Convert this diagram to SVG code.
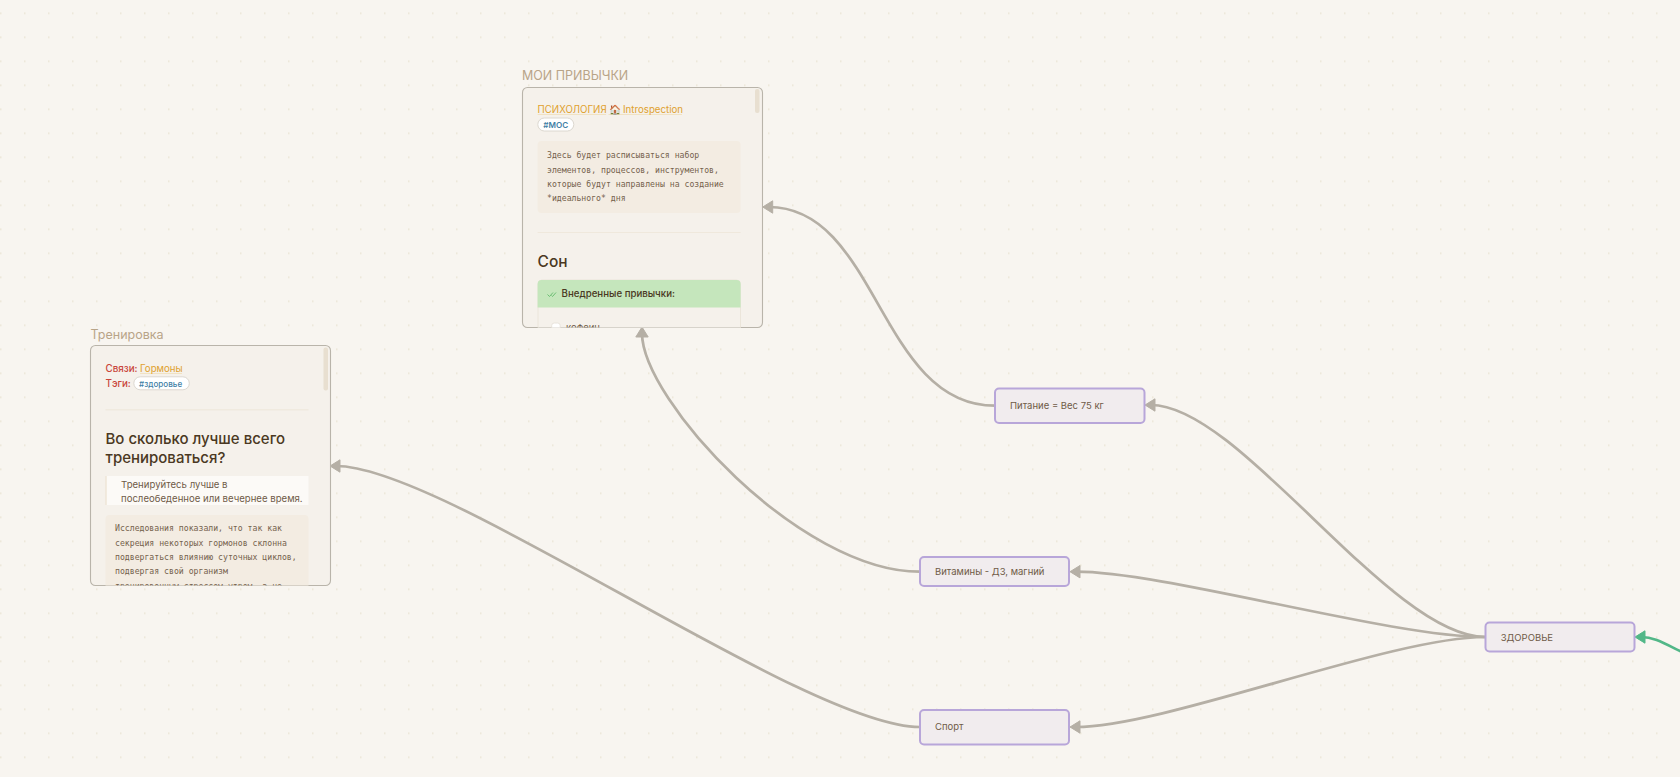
<svg xmlns="http://www.w3.org/2000/svg" width="1680" height="777" viewBox="0 0 1680 777">
<style>
text{font-family:"Inter","Noto Sans",sans-serif;white-space:pre}
.mono{font-family:"DejaVu Sans Mono","Liberation Mono",monospace;font-size:8.17px;fill:#75624d}
.card{fill:#f5f1eb;stroke:#b9b4aa;stroke-width:1.1}
.box{fill:#f1ecee;stroke:#b8a6d9;stroke-width:2}
.label{font-size:9.5px;fill:#6f5b47}
.ttl{font-size:12.5px;fill:#b8a488}
.link{font-size:9.7px;fill:#e0a12f}
.ul{fill:#f1dfb8}
.red{font-size:9.8px;fill:#c9453a;font-weight:500}
.tag{fill:#fff;stroke:#dcd8d0;stroke-width:1}
.tagt{font-size:8.1px;fill:#3f7fa6;font-weight:600}
.h{fill:#4a3822;font-weight:550}
.edge{fill:none;stroke:#b5afa5;stroke-width:2.7}
.grn{fill:none;stroke:#52b788;stroke-width:2.7}
</style>
<defs>
<pattern id="dots" width="24" height="24" patternUnits="userSpaceOnUse" patternTransform="translate(0 12.5)"><rect width="1.5" height="1.5" fill="#e9e3d3"/></pattern>
<marker id="ah" markerUnits="userSpaceOnUse" markerWidth="16" markerHeight="16" refX="5" refY="8" orient="auto"><path d="M1 1.800L11 8L1 14.200Z" fill="#b5afa5" stroke="#b5afa5" stroke-linejoin="round"/></marker>
<marker id="ag" markerUnits="userSpaceOnUse" markerWidth="16" markerHeight="16" refX="5" refY="8" orient="auto"><path d="M1 1.800L11 8L1 14.200Z" fill="#52b788" stroke="#52b788" stroke-linejoin="round"/></marker>
<clipPath id="c1"><rect x="522.500" y="87.500" width="240" height="240" rx="5"/></clipPath>
<clipPath id="c2"><rect x="90.500" y="345.500" width="240" height="240" rx="5"/></clipPath>
</defs>
<rect width="1680" height="777" fill="#f8f5f0"/>
<rect width="1680" height="777" fill="url(#dots)"/>
<g id="connectors">
<path class="edge" marker-end="url(#ah)" d="M995 405.700C879 405.700 878 207 768.700 207"/>
<path class="edge" marker-end="url(#ah)" d="M919.700 571.700C800 571.700 642 400 642 333"/>
<path class="edge" marker-end="url(#ah)" d="M919.700 727C805 727 445 466 336 466"/>
<path class="edge" marker-end="url(#ah)" d="M1485 637C1390 637 1240 405 1151 405"/>
<path class="edge" marker-end="url(#ah)" d="M1485 637C1390 637 1165 571.700 1076 571.700"/>
<path class="edge" marker-end="url(#ah)" d="M1485 637C1390 637 1165 727 1076 727"/>
<path class="grn" marker-end="url(#ag)" d="M1690 656C1665 644 1655 637 1641 637"/>
</g>
<g id="node-habits">
<text class="ttl" x="522" y="80">МОИ ПРИВЫЧКИ</text>
<rect class="card" x="522.500" y="87.500" width="240" height="240" rx="5"/>
<g clip-path="url(#c1)">
<rect x="755" y="89" width="4.500" height="24" rx="2" fill="#e8dfd0"/>
<rect class="ul" x="537.600" y="114.200" width="68.500" height="0.800"/>
<rect class="ul" x="608.500" y="114.200" width="73.500" height="0.800"/>
<text class="link" x="537.600" y="113">ПСИХОЛОГИЯ</text>
<text class="link" x="609" y="113" style="font-family:'Noto Sans CJK SC','Noto Sans',sans-serif">🏠</text>
<text class="link" x="623" y="113">Introspection</text>
<rect class="tag" x="537.800" y="118" width="36" height="13" rx="6.500"/>
<text class="tagt" x="543.300" y="127.800">#MOC</text>
<rect x="537.600" y="141" width="203" height="72" rx="4" fill="#f3ece2"/>
<text class="mono" x="547" y="158">Здесь будет расписываться набор</text>
<text class="mono" x="547" y="172.500">элементов, процессов, инструментов,</text>
<text class="mono" x="547" y="187">которые будут направлены на создание</text>
<text class="mono" x="547" y="201">*идеального* дня</text>
<rect x="537.600" y="232" width="203" height="1" fill="#efe8dc"/>
<text class="h" x="537.600" y="267" font-size="15.500">Сон</text>
<rect x="538" y="280" width="202.500" height="60" rx="4" fill="#f5f1eb" stroke="#ebe5da"/>
<path d="M537.600 307.500V284a4 4 0 0 1 4-4H736.600a4 4 0 0 1 4 4V307.500Z" fill="#c5e6bc"/>
<path d="M547.500 294.500l2 2 3.500-4M551.500 295.500l1 1 3.500-4" fill="none" stroke="#6cbf73" stroke-width="1"/>
<text class="h" x="561.600" y="297" font-size="9.700" style="font-weight:500">Внедренные привычки:</text>
<rect x="551.700" y="323" width="8.500" height="9" rx="2.500" fill="#fff" stroke="#e8e3db"/>
<text class="label" x="566" y="331">кофеин</text>
</g>
</g>
<g id="node-training">
<text class="ttl" x="90.500" y="339">Тренировка</text>
<rect class="card" x="90.500" y="345.500" width="240" height="240" rx="5"/>
<g clip-path="url(#c2)">
<rect x="323.500" y="347.500" width="4.500" height="43" rx="2" fill="#e8dfd0"/>
<rect class="ul" x="140" y="373" width="42" height="0.800"/>
<text class="red" x="105.500" y="371.500">Связи:</text>
<text class="link" x="140" y="371.500">Гормоны</text>
<text class="red" x="105.500" y="386.500">Тэги:</text>
<rect class="tag" x="133.800" y="376.800" width="55.500" height="13" rx="6.500"/>
<text class="tagt" x="139" y="386.500" style="font-weight:500">#здоровье</text>
<rect x="105.500" y="409" width="203" height="1.500" fill="#f0eadf"/>
<text class="h" x="105.500" y="444" font-size="15">Во сколько лучше всего</text>
<text class="h" x="105.500" y="463" font-size="15">тренироваться?</text>
<rect x="105.500" y="476" width="203" height="29" fill="#fcfaf7"/>
<rect x="105.500" y="476" width="1" height="29" fill="#e8dcc8"/>
<text class="label" x="121" y="487.500" style="font-size:9.600px">Тренируйтесь лучше в</text>
<text class="label" x="121" y="501.500" style="font-size:9.600px">послеобеденное или вечернее время.</text>
<rect x="105.500" y="515" width="203" height="80" rx="4" fill="#f3ece2"/>
<text class="mono" x="115" y="531">Исследования показали, что так как</text>
<text class="mono" x="115" y="546">секреция некоторых гормонов склонна</text>
<text class="mono" x="115" y="560">подвергаться влиянию суточных циклов,</text>
<text class="mono" x="115" y="574">подвергая свой организм</text>
<text class="mono" x="115" y="588.500">тренировочным стрессом утром, а не</text>
</g>
</g>
<g id="node-food"><rect class="box" x="995" y="388.500" width="149.500" height="34.500" rx="4"/><text class="label" x="1010" y="409">Питание = Вес 75 кг</text></g>
<g id="node-vitamins"><rect class="box" x="920" y="557" width="149" height="29" rx="4"/><text class="label" x="935" y="575">Витамины - Д3, магний</text></g>
<g id="node-sport"><rect class="box" x="920" y="710" width="149" height="34.500" rx="4"/><text class="label" x="935" y="730">Спорт</text></g>
<g id="node-health"><rect class="box" x="1485.500" y="622.500" width="149" height="29" rx="4"/><text class="label" x="1500.700" y="641">ЗДОРОВЬЕ</text></g>
</svg>
